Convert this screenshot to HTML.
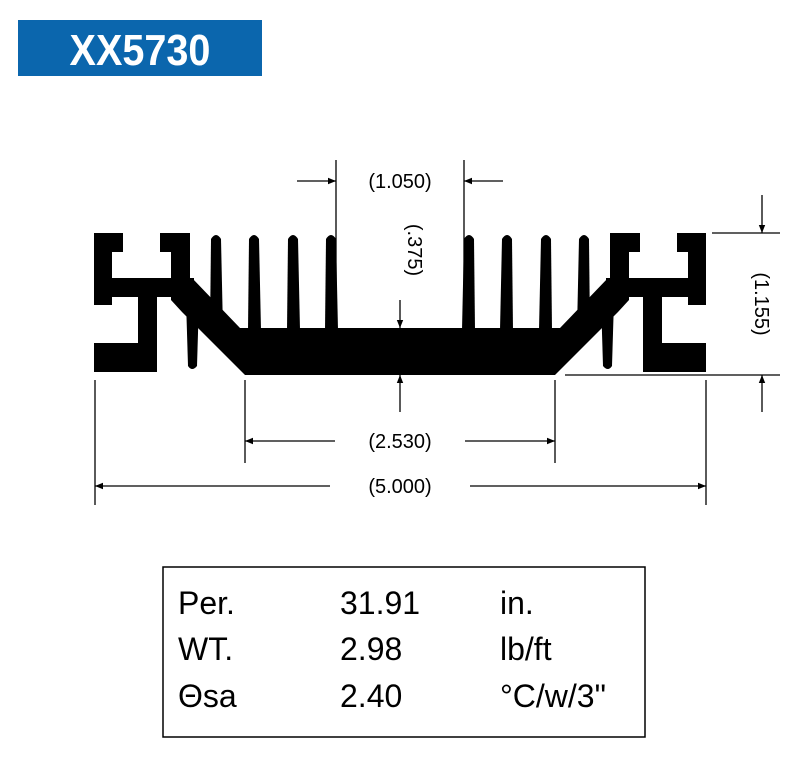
<!DOCTYPE html>
<html><head><meta charset="utf-8"><style>
body{margin:0;background:#fff;width:800px;height:766px;overflow:hidden;font-family:"Liberation Sans",Arial,sans-serif}
</style></head><body>
<svg width="800" height="766" viewBox="0 0 800 766" xmlns="http://www.w3.org/2000/svg">
<rect x="18" y="20" width="244" height="56" fill="#0b66ad"/>
<text x="140" y="65" fill="#fff" font-family="Liberation Sans" font-weight="bold" font-size="44" text-anchor="middle" transform="translate(140,0) scale(0.9,1) translate(-140,0)">XX5730</text>
<defs>
<g id="half" fill="#000">
<rect x="94" y="233" width="18" height="72"/>
<rect x="94" y="233" width="29" height="19"/>
<rect x="94" y="278" width="100" height="19"/>
<rect x="138" y="278" width="19" height="94"/>
<rect x="94" y="343" width="63" height="29"/>
<rect x="160" y="233" width="29" height="19"/>
<rect x="171" y="233" width="19" height="60"/>
<polygon points="171,278 192,278 240,328 401,328 401,375 245,375 182,312 171,300"/>
<path d="M186,300 L199,300 L197,366 Q192,372 188,366 Z"/>
<path d="M210,330 L211,239 Q216,231 221,239 L223,330 Z"/>
<path d="M248,330 L249,239 Q254,231 259,239 L261,330 Z"/>
<path d="M287,330 L288,239 Q293,231 298,239 L300,330 Z"/>
<path d="M325,330 L326,239 Q331,231 336,239 L338,330 Z"/>
</g>
<marker id="ah" viewBox="0 0 10 10" refX="10" refY="5" markerWidth="10" markerHeight="8" orient="auto-start-reverse" markerUnits="userSpaceOnUse"><path d="M0,1 L10,5 L0,9 z" fill="#000"/></marker>
</defs>
<use href="#half"/>
<use href="#half" transform="translate(800,0) scale(-1,1)"/>
<g stroke="#000" stroke-width="1.3" fill="none">
<line x1="336" y1="160" x2="336" y2="330"/>
<line x1="464" y1="160" x2="464" y2="330"/>
<line x1="297" y1="181" x2="336" y2="181" marker-end="url(#ah)"/>
<line x1="503" y1="181" x2="464" y2="181" marker-end="url(#ah)"/>
<line x1="400" y1="300" x2="400" y2="328" marker-end="url(#ah)"/>
<line x1="400" y1="412" x2="400" y2="375" marker-end="url(#ah)"/>
<line x1="712" y1="233" x2="780" y2="233"/>
<line x1="565" y1="375" x2="780" y2="375"/>
<line x1="762" y1="195" x2="762" y2="233" marker-end="url(#ah)"/>
<line x1="762" y1="412" x2="762" y2="375" marker-end="url(#ah)"/>
<line x1="245" y1="380" x2="245" y2="463"/>
<line x1="555" y1="380" x2="555" y2="463"/>
<line x1="335" y1="441" x2="245" y2="441" marker-end="url(#ah)"/>
<line x1="465" y1="441" x2="555" y2="441" marker-end="url(#ah)"/>
<line x1="95" y1="380" x2="95" y2="505"/>
<line x1="706" y1="380" x2="706" y2="505"/>
<line x1="330" y1="486" x2="95" y2="486" marker-end="url(#ah)"/>
<line x1="470" y1="486" x2="706" y2="486" marker-end="url(#ah)"/>
</g>
<g font-family="Liberation Sans" font-size="20" fill="#000" text-anchor="middle">
<text x="400" y="188">(1.050)</text>
<text x="400" y="448">(2.530)</text>
<text x="400" y="493">(5.000)</text>
<text transform="translate(408,250) rotate(90)">(.375)</text>
<text transform="translate(755,304) rotate(90)">(1.155)</text>
</g>
<rect x="163" y="567" width="482" height="170" fill="none" stroke="#000" stroke-width="1.5"/>
<g font-family="Liberation Sans" font-size="32" fill="#000">
<text x="178" y="614">Per.</text><text x="340" y="614">31.91</text><text x="500" y="614">in.</text>
<text x="178" y="660">WT.</text><text x="340" y="660">2.98</text><text x="500" y="660">lb/ft</text>
<text x="178" y="707">Θsa</text><text x="340" y="707">2.40</text><text x="500" y="707">°C/w/3"</text>
</g>
</svg>
</body></html>
